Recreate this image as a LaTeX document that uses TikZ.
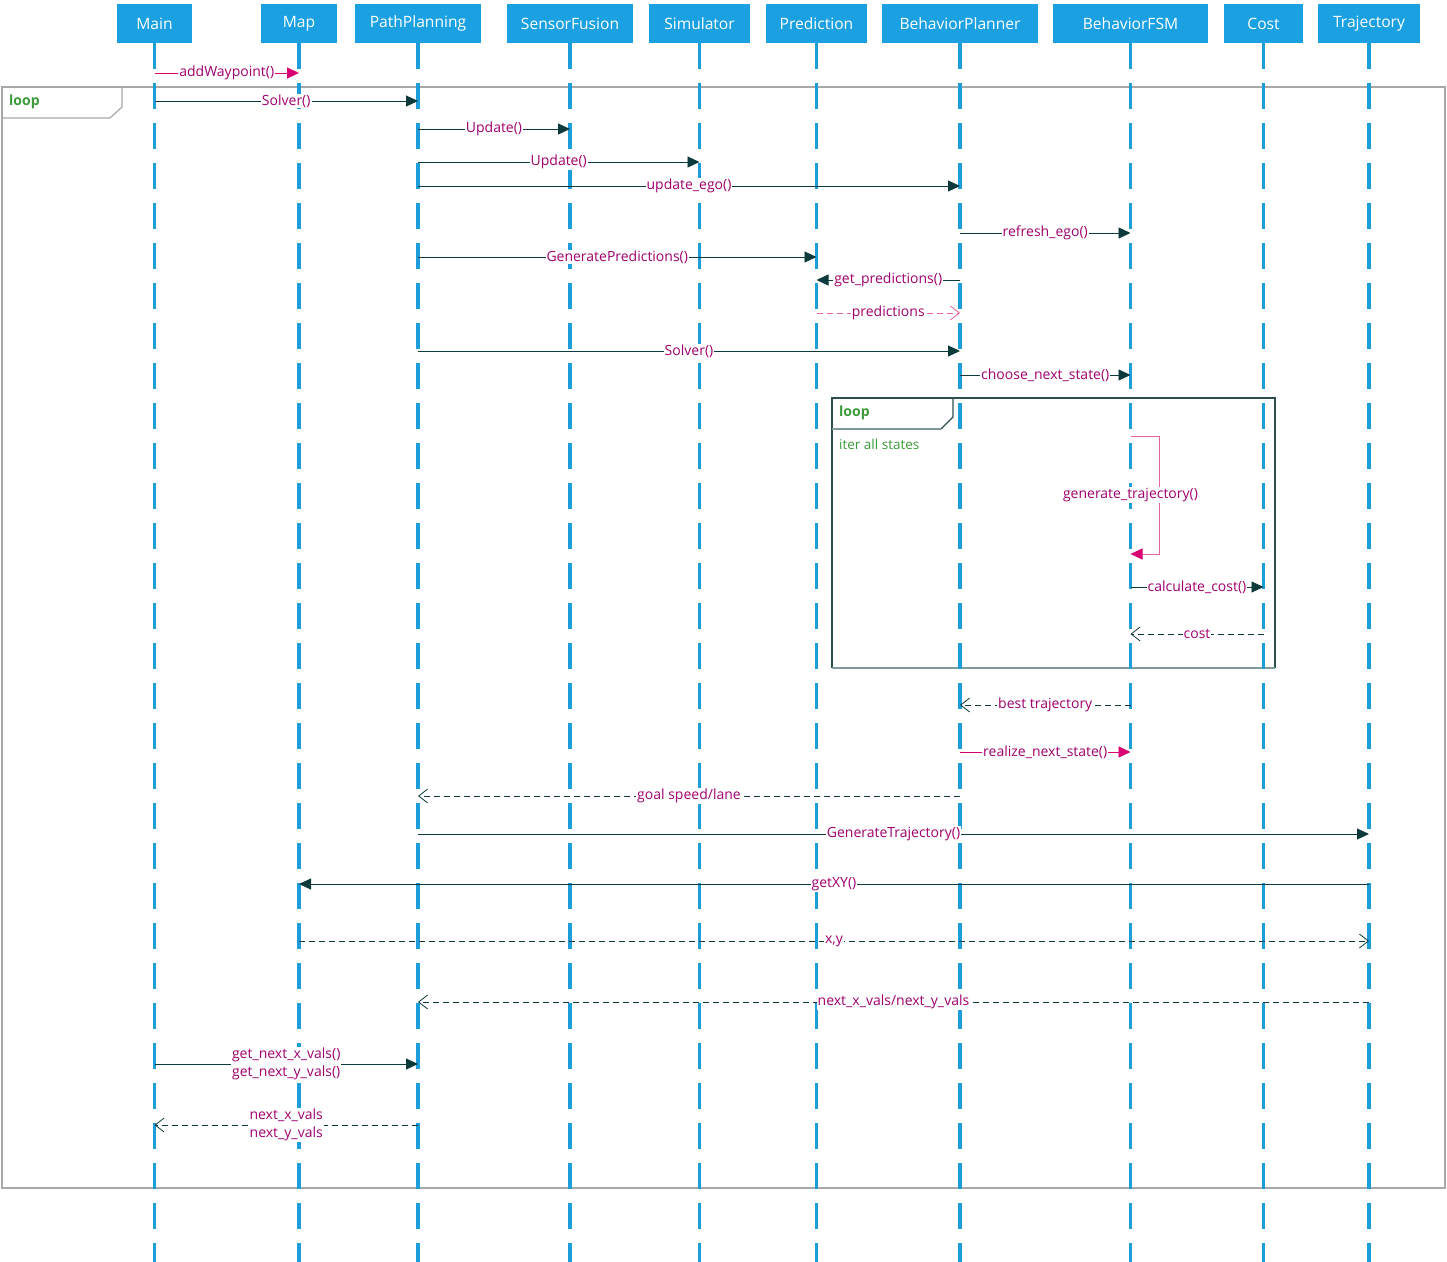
\documentclass[tikz,border=0pt]{standalone}
\usepackage{fontspec}
\setmainfont{Open Sans}
\usetikzlibrary{arrows.meta}
\definecolor{hdrblue}{HTML}{1BA1E2}
\definecolor{lifeblue}{HTML}{1E9DDB}
\definecolor{darkln}{HTML}{0D3B3B}
\definecolor{magcol}{HTML}{D80073}
\definecolor{pinkcol}{HTML}{E8629E}
\definecolor{lblcol}{HTML}{A0006E}
\definecolor{loopgreen}{HTML}{3A9A3A}
\definecolor{framegray}{HTML}{A8A8A8}
\definecolor{innerframe}{HTML}{2F4F4F}
\definecolor{innerframe2}{HTML}{7F9A9A}
\newcommand{\msgline}[5]{\draw[#5] (#1.south |- 0,#3) -- node[lbl]{#4} (#2.south |- 0,#3);}
\begin{document}
\begin{tikzpicture}[x=1pt,y=-1pt,
  hdr/.style={fill=hdrblue, text=white, minimum height=39pt, inner sep=0pt,
    font=\fontsize{15.6}{18}\selectfont},
  lifeline/.style={draw=lifeblue, line width=3.5pt, dash pattern=on 26pt off 14pt},
  lbl/.style={fill=white, text=lblcol, font=\fontsize{14}{18}\selectfont, inner sep=1pt, align=center},
  sync/.style={draw=darkln, line width=0.95pt, -{Triangle[length=12pt,width=11pt]}},
  magsync/.style={draw=magcol, line width=0.95pt, -{Triangle[length=12pt,width=11pt]}},
  reply/.style={draw=darkln, line width=0.8pt, dash pattern=on 6pt off 4pt,
    -{Straight Barb[length=9pt,width=14pt,line width=0.8pt]}},
  pinkreply/.style={draw=pinkcol, line width=0.8pt, dash pattern=on 6pt off 4pt,
    -{Straight Barb[length=9pt,width=14pt,line width=0.8pt]}},
  looplbl/.style={text=loopgreen, font=\bfseries\fontsize{14}{16}\selectfont, inner sep=0pt},
  guardlbl/.style={text=loopgreen, font=\fontsize{13.5}{16}\selectfont, inner sep=0pt}
]
\useasboundingbox (0,0) rectangle (1447,1261);
\fill[white] (0,0) rectangle (1447,1261);

% outer loop frame
\draw[framegray, line width=1.2pt] (2,87) rectangle (1445,1188);
\draw[framegray, line width=1.2pt] (2,118) -- (110,118) -- (122,107) -- (122,87);
\node[looplbl, anchor=west] (outerloop) at (9,102) {loop};

% inner loop frame
\draw[innerframe, line width=1.1pt] (832,668) -- (832,398) -- (1275,398) -- (1275,668);
\draw[innerframe2, line width=1.3pt] (832,668) -- (1275,668);
\draw[innerframe, line width=1.1pt] (953,398) -- (953,417) -- (941,429);
\draw[innerframe2, line width=1.3pt] (941,429) -- (832,429);
\node[looplbl, anchor=west] (innerloop) at (839,413) {loop};
\node[guardlbl, anchor=west] (guard) at (839,444) {iter all states};

% headers
\node[hdr, minimum width=75pt]  (main) at (154.5,23.5) {Main};
\node[hdr, minimum width=76pt]  (map)  at (299,23.5) {Map};
\node[hdr, minimum width=126pt] (pp)   at (418,23.5) {PathPlanning};
\node[hdr, minimum width=126pt] (sf)   at (570,23.5) {SensorFusion};
\node[hdr, minimum width=101pt] (sim)  at (699.5,23.5) {Simulator};
\node[hdr, minimum width=101pt] (pred) at (816.5,23.5) {Prediction};
\node[hdr, minimum width=156pt] (bp)   at (960,23.5) {BehaviorPlanner};
\node[hdr, minimum width=155pt] (fsm)  at (1130.5,23.5) {BehaviorFSM};
\node[hdr, minimum width=79pt]  (cost) at (1263.5,23.5) {Cost};
\node[hdr, minimum width=102pt] (traj) at (1369,23.5) {Trajectory};

% lifelines
\foreach \n in {main,map,pp,sf,sim,pred,bp,fsm,cost,traj}
  \draw[lifeline] (\n.south) -- (\n.south |- 0,1262);

% messages
\msgline{main}{map}{73}{addWaypoint()}{magsync}
\msgline{main}{pp}{101}{Solver()}{sync}
\msgline{pp}{sf}{129}{Update()}{sync}
\msgline{pp}{sim}{162}{Update()}{sync}
\msgline{pp}{bp}{186}{update\_ego()}{sync}
\msgline{bp}{fsm}{233}{refresh\_ego()}{sync}
\msgline{pp}{pred}{257}{GeneratePredictions()}{sync}
\msgline{bp}{pred}{280}{get\_predictions()}{sync}
\msgline{pred}{bp}{313}{predictions}{pinkreply}
\msgline{pp}{bp}{351}{Solver()}{sync}
\msgline{bp}{fsm}{375}{choose\_next\_state()}{sync}

% self message
\draw[draw=pinkcol, line width=1pt, -{Triangle[length=12pt,width=11pt,color=magcol]}]
  (fsm.south |- 0,436) -- ++(29,0) coordinate (gtcorner) -- ++(0,118) -- (fsm.south |- 0,554);
\node[lbl] (gtlbl) at (fsm.south |- 0,495) {generate\_trajectory()};

\msgline{fsm}{cost}{587}{calculate\_cost()}{sync}
\msgline{cost}{fsm}{634}{cost}{reply}
\msgline{fsm}{bp}{705}{best trajectory}{reply}
\msgline{bp}{fsm}{752}{realize\_next\_state()}{magsync}
\msgline{bp}{pp}{796}{goal speed/lane}{reply}
\msgline{pp}{traj}{834}{GenerateTrajectory()}{sync}
\msgline{traj}{map}{884}{getXY()}{sync}
\msgline{map}{traj}{941}{x,y}{reply}
\msgline{traj}{pp}{1002}{next\_x\_vals/next\_y\_vals}{reply}
\msgline{main}{pp}{1064}{get\_next\_x\_vals()\\get\_next\_y\_vals()}{sync}
\msgline{pp}{main}{1125}{next\_x\_vals\\next\_y\_vals}{reply}
\end{tikzpicture}
\end{document}
